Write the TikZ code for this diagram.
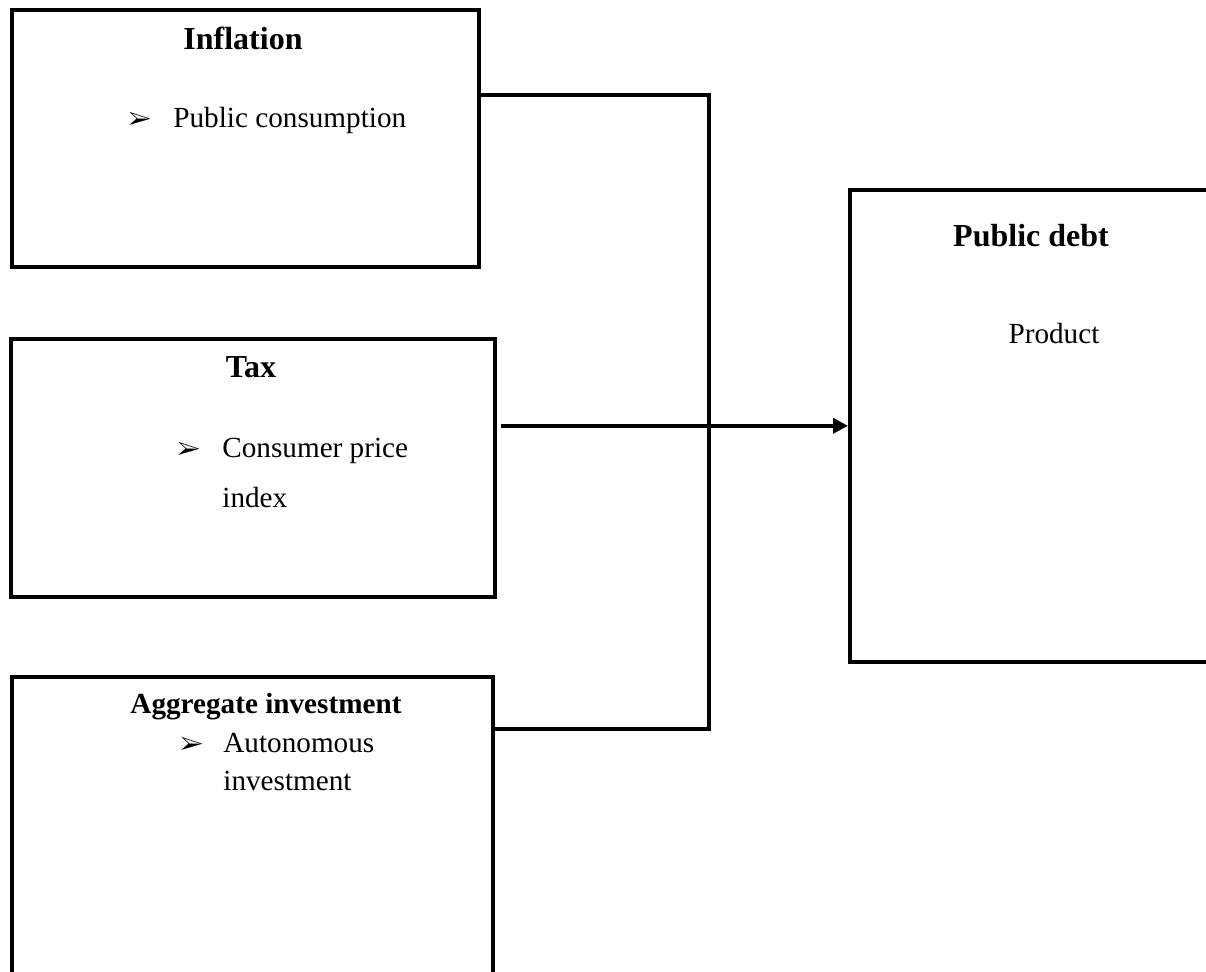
\documentclass[tikz,border=0pt]{standalone}
\usepackage{fontspec}
\setmainfont{Liberation Serif}
\usepackage{pifont}
\usetikzlibrary{positioning, arrows.meta}
\tikzset{
x=0.5pt, y=-0.5pt, % one unit is one pixel of the page, y runs downwards
box/.style={draw, line width=1.8pt, inner sep=0pt, anchor=north west}, % the factor boxes
head/.style={font=\fontsize{16}{19}\selectfont\bfseries, inner sep=0pt, anchor=base}, % title of a box
smallhead/.style={head, font=\fontsize{14.6}{17}\selectfont\bfseries}, % smaller title
item/.style={font=\fontsize{14.6}{17}\selectfont, inner sep=0pt, anchor=base west}, % one line of a listed item
bullet/.style={font=\fontsize{12.5}{14}\selectfont, inner sep=0pt, anchor=base west}, % the arrowhead bullet
link/.style={line width=1.8pt}, % the joining line
flow/.style={link, -{Triangle[length=7.5pt, width=7.5pt]}}, % the arrow into public debt
}
\begin{document}
\begin{tikzpicture}
    \path[use as bounding box, clip] (0,0) rectangle (1206,971);

    \node[box, minimum width=233.5pt, minimum height=128.5pt] (infl) at (10,8) {};
    \node[box, minimum width=242pt, minimum height=129pt] (tax) at (9,337) {};
    \node[box, minimum width=240.5pt, minimum height=200pt] (aggr) at (10,675) {};
    \node[box, minimum width=210pt, minimum height=236pt] (debt) at (848,188) {};

    \node[head] (infl title) at (243,49) {Inflation};
    \node[bullet] (infl b1) at (128,127) {\ding{226}};
    \node[item] (infl i1) at (173,127) {Public consumption};

    \node[head] (tax title) at (251,377) {Tax};
    \node[bullet] (tax b1) at (177,457) {\ding{226}};
    \node[item] (tax i1) at (222,457) {Consumer price};
    \node[item] (tax i1b) at (222,507) {index};

    \node[smallhead] (aggr title) at (266,713) {Aggregate investment};
    \node[bullet] (aggr b1) at (180,752) {\ding{226}};
    \node[item] (aggr i1) at (223,752) {Autonomous};
    \node[item] (aggr i1b) at (223,790) {investment};

    \node[head] (debt title) at (1031,246) {Public debt};
    \node[item, anchor=base] (debt i1) at (1054,343) {Product};

    \coordinate (bus top) at (709,95);
    \coordinate (bus end) at (709,729);
    \draw[link] (infl.east |- bus top) -- (bus top) -- (bus end) -- (aggr.east |- bus end);
    \draw[flow, shorten <=2pt] (tax.east |- debt.west) -- (debt.west);
  \end{tikzpicture}
\end{document}
